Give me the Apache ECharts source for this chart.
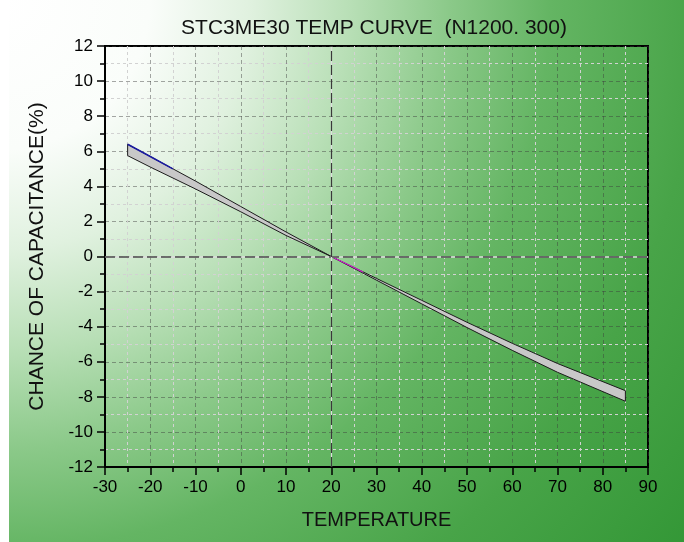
<!DOCTYPE html>
<html>
<head>
<meta charset="utf-8">
<script src="https://cdn.jsdelivr.net/npm/echarts@6/dist/echarts.min.js"></script>
<style>
html,body{margin:0;padding:0;background:#fff;}
#chart{width:684px;height:542px;}
</style>
</head>
<body>
<div id="chart"></div>
<script>
// ---- data ----
const chartTitle = 'STC3ME30 TEMP CURVE  (N1200. 300)';
const xTitle = 'TEMPERATURE';
const yTitle = 'CHANCE OF CAPACITANCE(%)';
const temps    = [-25, -20, -10, 0, 10, 20, 30, 40, 50, 60, 70, 85];
const upperPct = [6.4, 5.7, 4.3, 2.85, 1.4, 0, -1.25, -2.5, -3.75, -4.95, -6.1, -7.65];
const lowerPct = [5.75, 5.1, 3.85, 2.55, 1.2, 0, -1.35, -2.7, -4.05, -5.35, -6.6, -8.25];
const blueTemps = [-25, -20, -15];
const blueVals  = [6.4, 5.7, 5.0];
const magentaTemps = [20, 24, 27];
const magentaVals  = [0, -0.5, -0.88];
const xMin = -30, xMax = 90, xStep = 10;
const yMin = -12, yMax = 12, yStep = 2;
const zeroY = 0, refX = 20;

const FONT = '"Liberation Sans", Arial, sans-serif';
const chart = echarts.init(document.getElementById('chart'), null, {renderer: 'canvas'});

const bandData = temps.map((t, i) => [t, upperPct[i], lowerPct[i]]);

const option = {
  animation: false,
  backgroundColor: {
    type: 'radial', x: 0, y: 0, r: 880, global: true,
    colorStops: [
      {offset: 0, color: '#ffffff'},
      {offset: 0.17, color: '#fafdfa'},
      {offset: 0.284, color: '#e0f1df'},
      {offset: 0.398, color: '#b8dfb6'},
      {offset: 0.511, color: '#8bc989'},
      {offset: 0.625, color: '#64b563'},
      {offset: 0.795, color: '#48a448'},
      {offset: 1, color: '#339736'}
    ]
  },
  graphic: [{
    type: 'rect', left: 0, top: 0, z: -1,
    shape: {width: 9, height: 542},
    style: {fill: '#ffffff'}
  }],
  title: {
    text: chartTitle,
    left: 369, top: 13, textAlign: 'center',
    textStyle: {fontFamily: FONT, fontSize: 21, fontWeight: 'normal', color: '#111'}
  },
  grid: {
    left: 105, right: 36, top: 46, bottom: 75,
    show: true, borderColor: '#000', borderWidth: 2, backgroundColor: 'transparent'
  },
  xAxis: {
    type: 'value', min: xMin, max: xMax, interval: xStep,
    name: xTitle, nameLocation: 'middle', nameGap: 43,
    nameTextStyle: {fontFamily: FONT, fontSize: 20, color: '#111'},
    axisLine: {onZero: false, lineStyle: {color: '#000', width: 2}},
    axisTick: {show: true, length: 8, lineStyle: {color: '#000', width: 1.5}},
    minorTick: {show: true, splitNumber: 2, length: 5, lineStyle: {color: '#000', width: 1.5}},
    axisLabel: {fontFamily: FONT, fontSize: 17, color: '#000', margin: 12},
    splitLine: {show: true, lineStyle: {color: 'rgba(60,60,60,0.45)', type: [4, 3], width: 1}},
    minorSplitLine: {show: true, lineStyle: {color: '#d2d2d2', type: [3, 3], width: 1}}
  },
  yAxis: {
    type: 'value', min: yMin, max: yMax, interval: yStep,
    name: yTitle, nameLocation: 'middle', nameGap: 57, nameRotate: 90,
    nameTextStyle: {fontFamily: FONT, fontSize: 21, color: '#111'},
    axisLine: {onZero: false, lineStyle: {color: '#000', width: 2}},
    axisTick: {show: true, length: 8, lineStyle: {color: '#000', width: 1.5}},
    minorTick: {show: true, splitNumber: 2, length: 5, lineStyle: {color: '#000', width: 1.5}},
    axisLabel: {fontFamily: FONT, fontSize: 17, color: '#000', margin: 12},
    splitLine: {show: true, lineStyle: {color: 'rgba(60,60,60,0.45)', type: [4, 3], width: 1}},
    minorSplitLine: {show: true, lineStyle: {color: '#d2d2d2', type: [3, 3], width: 1}}
  },
  series: [
    {
      type: 'line', data: [], silent: true, z: 1,
      markLine: {
        silent: true, symbol: 'none', label: {show: false},
        data: [
          {yAxis: zeroY, lineStyle: {color: '#dedede', type: 'solid', width: 1.5}},
          {yAxis: zeroY, lineStyle: {color: '#4a4a4a', type: [10, 4], width: 1.5}},
          {xAxis: refX, lineStyle: {color: '#dedede', type: 'solid', width: 1.2}},
          {xAxis: refX, lineStyle: {color: '#3a3a3a', type: [10, 4], width: 1.2}}
        ]
      }
    },
    {
      type: 'custom', z: 3, silent: true,
      data: bandData,
      encode: {x: 0, y: [1, 2]},
      renderItem: function (params, api) {
        if (params.dataIndex !== 0) return null;
        const pts = [];
        for (let j = 0; j < temps.length; j++) pts.push(api.coord([temps[j], upperPct[j]]));
        for (let j = temps.length - 1; j >= 0; j--) pts.push(api.coord([temps[j], lowerPct[j]]));
        return {
          type: 'polygon',
          shape: {points: pts},
          style: {fill: '#c8c8c8', stroke: '#1c1c1c', lineWidth: 1}
        };
      }
    },
    {
      type: 'line', z: 4, silent: true, symbol: 'none',
      data: blueTemps.map((t, i) => [t, blueVals[i]]),
      lineStyle: {color: '#1a1aa0', width: 1.5}
    },
    {
      type: 'line', z: 4, silent: true, symbol: 'none',
      data: magentaTemps.map((t, i) => [t, magentaVals[i]]),
      lineStyle: {color: '#d020d0', width: 1.2}
    }
  ]
};
chart.setOption(option);
</script>
</body>
</html>
